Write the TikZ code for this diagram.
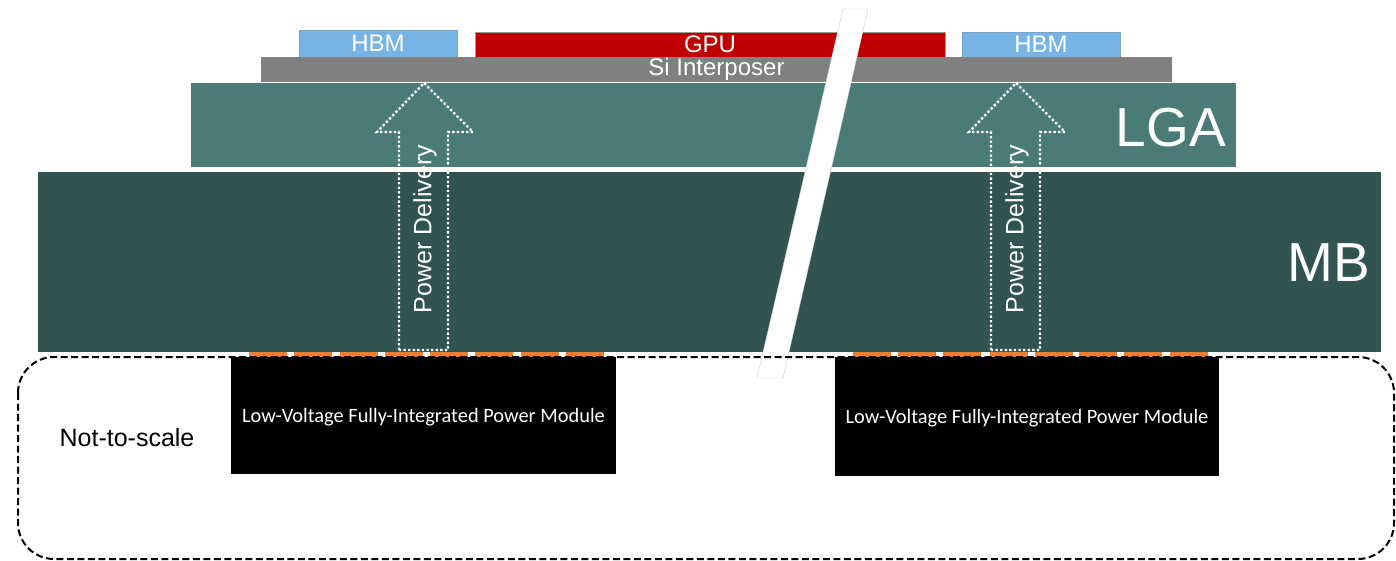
\documentclass[tikz,border=0pt]{standalone}
\usepackage{fontspec}
\setmainfont{Liberation Sans}
\newfontfamily\calib{Carlito}
\definecolor{hbmblue}{RGB}{117,180,228}
\definecolor{gpured}{RGB}{192,0,0}
\definecolor{sigray}{RGB}{128,128,128}
\definecolor{lgateal}{RGB}{74,123,119}
\definecolor{mbteal}{RGB}{49,83,82}
\definecolor{padorange}{RGB}{237,125,49}
\tikzset{
  layer/.style={anchor=north west, inner sep=0pt, outer sep=0pt, text=white,
    font=\fontsize{24}{28}\selectfont},
  bigtxt/.style={text=white, inner sep=0pt, font=\fontsize{55}{60}\selectfont},
  module/.style={anchor=north west, fill=black, inner sep=0pt, outer sep=0pt,
    minimum width=385pt, minimum height=117pt, text=white, text depth=0pt,
    font=\calib\fontsize{20.4}{24}\selectfont},
  pad/.style={fill=padorange, draw=none},
  pdarrow/.style={draw=white, line width=2.4pt, dash pattern=on 2.4pt off 2.2pt},
  pdtext/.style={text=white, rotate=90, inner sep=0pt, font=\fontsize{25}{30}\selectfont},
}
\begin{document}
\begin{tikzpicture}[x=1pt,y=-1pt]
\useasboundingbox (0,0) rectangle (1396,561);
% layers
\node[layer, fill=hbmblue, draw=hbmblue!70!gray, line width=0.6pt, minimum width=158pt, minimum height=27pt] (hbmL) at (299,30) {HBM};
\node[layer, fill=gpured, draw=gray!80, line width=0.6pt, minimum width=470pt, minimum height=25pt] (gpu) at (475,32) {GPU};
\node[layer, fill=hbmblue, draw=hbmblue!70!gray, line width=0.6pt, minimum width=158pt, minimum height=25pt] (hbmR) at (962,32) {HBM};
\node[layer, fill=sigray, minimum width=911pt, minimum height=25pt] (si) at (261,57) {Si Interposer};
\node[layer, fill=lgateal, minimum width=1045pt, minimum height=84pt] (lga) at (191,83) {};
\node[bigtxt] (lgat) at (1171,128) {LGA};
\node[layer, fill=mbteal, minimum width=1343pt, minimum height=180pt] (mb) at (38,172) {};
\node[bigtxt] (mbt) at (1329,263) {MB};
% pads
\foreach \s in {249,294,340,385,430,475,521,566,853,898,943,990,1035,1079,1124,1170}
  \fill[pad] (\s,352) rectangle ++(38,5);
% break slash
\filldraw[fill=white, draw=gray!40, line width=0.4pt] (843,9) -- (868,9) -- (783,378) -- (757,378) -- cycle;
% dashed frame
\draw[black, line width=2pt, dash pattern=on 7pt off 3.5pt, rounded corners=36pt] (18,357) rectangle (1394,559);
\node[text=black, inner sep=0pt, font=\fontsize{25}{30}\selectfont] (nts) at (127,438) {Not-to-scale};
% modules
\node[module] (pmL) at (231,357) {Low-Voltage Fully-Integrated Power Module};
\node[module, minimum width=384pt, minimum height=119pt] (pmR) at (835,357) {Low-Voltage Fully-Integrated Power Module};
% power delivery arrows
\foreach \dx/\nm in {0/L,592/R}{
  \begin{scope}[xshift=\dx pt]
  \draw[pdarrow] (399,350) -- (399,132) -- (377,132) -- (424,83) -- (473,132) -- (448,132) -- (448,350) -- cycle;
  \node[pdtext] (pd\nm) at (425,229) {Power Delivery};
  \end{scope}
}
\end{tikzpicture}
\end{document}
